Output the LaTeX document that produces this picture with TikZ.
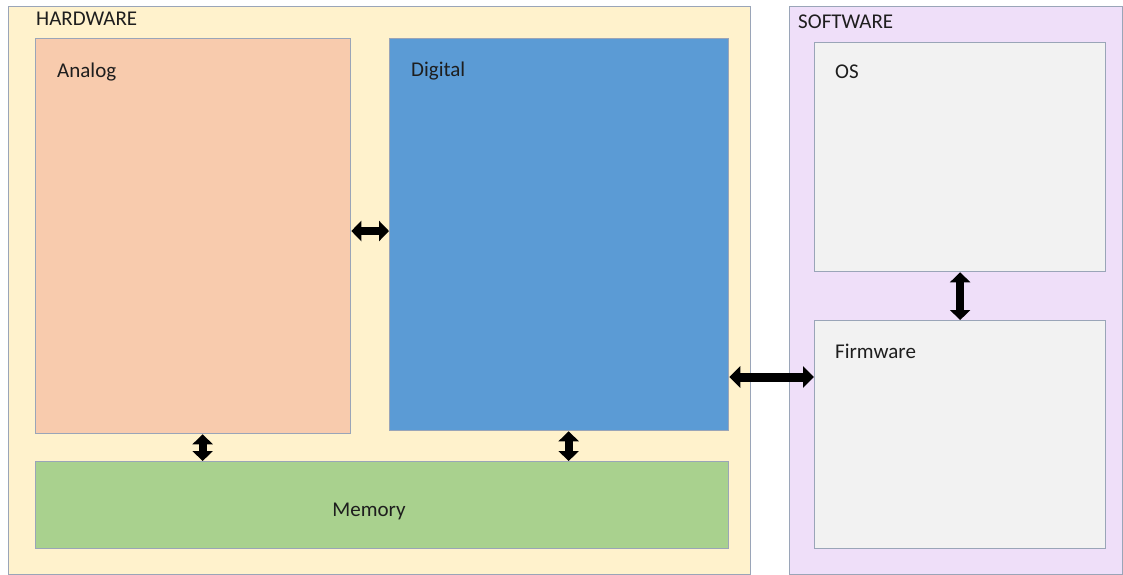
\documentclass[tikz,border=0pt]{standalone}
\usepackage{fontspec}
\setmainfont{Carlito}
\usetikzlibrary{arrows.meta,calc}
\definecolor{hwfill}{HTML}{FFF2CC}
\definecolor{swfill}{HTML}{EFDFF9}
\definecolor{anafill}{HTML}{F8CBAD}
\definecolor{digfill}{HTML}{5B9BD5}
\definecolor{memfill}{HTML}{A9D18E}
\definecolor{grayfill}{HTML}{F2F2F2}
\definecolor{edge}{HTML}{9AA5B8}
\definecolor{ink}{HTML}{1E1E1E}
\tikzset{
  panel/.style={draw=edge, line width=1.3pt, inner sep=0pt, anchor=north west},
  caption/.style={anchor=north west, inner sep=0pt, text=ink, font=\fontsize{21}{24}\selectfont},
  link/.style={line width=8pt,
    {Triangle[width=20pt,length=10pt]}-{Triangle[width=20pt,length=10pt]}},
  biglink/.style={line width=9pt,
    {Triangle[width=21pt,length=11pt]}-{Triangle[width=21pt,length=11pt]}}
}
\begin{document}
\begin{tikzpicture}[x=1pt,y=-1pt]
\useasboundingbox (0,0) rectangle (1123,574);
\fill[white] (0,0) rectangle (1123,574);

% outer groups
\node[panel, fill=hwfill, minimum width=742pt, minimum height=568pt] (hw) at (8,6) {};
\node[panel, fill=swfill, minimum width=333pt, minimum height=568pt] (sw) at (789,6) {};

% hardware blocks
\node[panel, fill=anafill, minimum width=315pt, minimum height=395pt] (analog) at (35,38) {};
\node[panel, fill=digfill, minimum width=339pt, minimum height=392pt] (digital) at (389,38) {};
\node[panel, fill=memfill, minimum width=693pt, minimum height=87pt] (memory) at (35,461) {};

% software blocks
\node[panel, fill=grayfill, minimum width=291pt, minimum height=229pt] (os) at (814,42) {};
\node[panel, fill=grayfill, minimum width=291pt, minimum height=228pt] (firmware) at (814,320) {};

% captions
\node[caption] (hwtext) at (36,12) {HARDWARE};
\node[caption] (swtext) at (798,15) {SOFTWARE};
\node[caption] (anatext) at (57,63) {Analog};
\node[caption] (digtext) at (411,62) {Digital};
\node[caption] (ostext) at (835,65) {OS};
\node[caption] (fwtext) at (835,344) {Firmware};
\node[text=ink, inner sep=0pt, font=\fontsize{21}{24}\selectfont] (memtext) at (369,511) {Memory};

% connectors
\coordinate (adA) at (analog.east |- 0,231);
\coordinate (adD) at (digital.west |- 0,231);
\draw[link] (adA) -- (adD);

\coordinate (amA) at ([xshift=9.5pt]analog.south);
\draw[link] (amA) -- (amA |- memory.north);

\coordinate (dmD) at ([xshift=9.5pt]digital.south);
\draw[link] (dmD) -- (dmD |- memory.north);

\coordinate (ofO) at (os.south);
\draw[link] (ofO) -- (ofO |- firmware.north);

\coordinate (dfD) at (digital.east |- 0,377);
\coordinate (dfF) at (firmware.west |- 0,377);
\draw[biglink] (dfD) -- (dfF);
\end{tikzpicture}
\end{document}
